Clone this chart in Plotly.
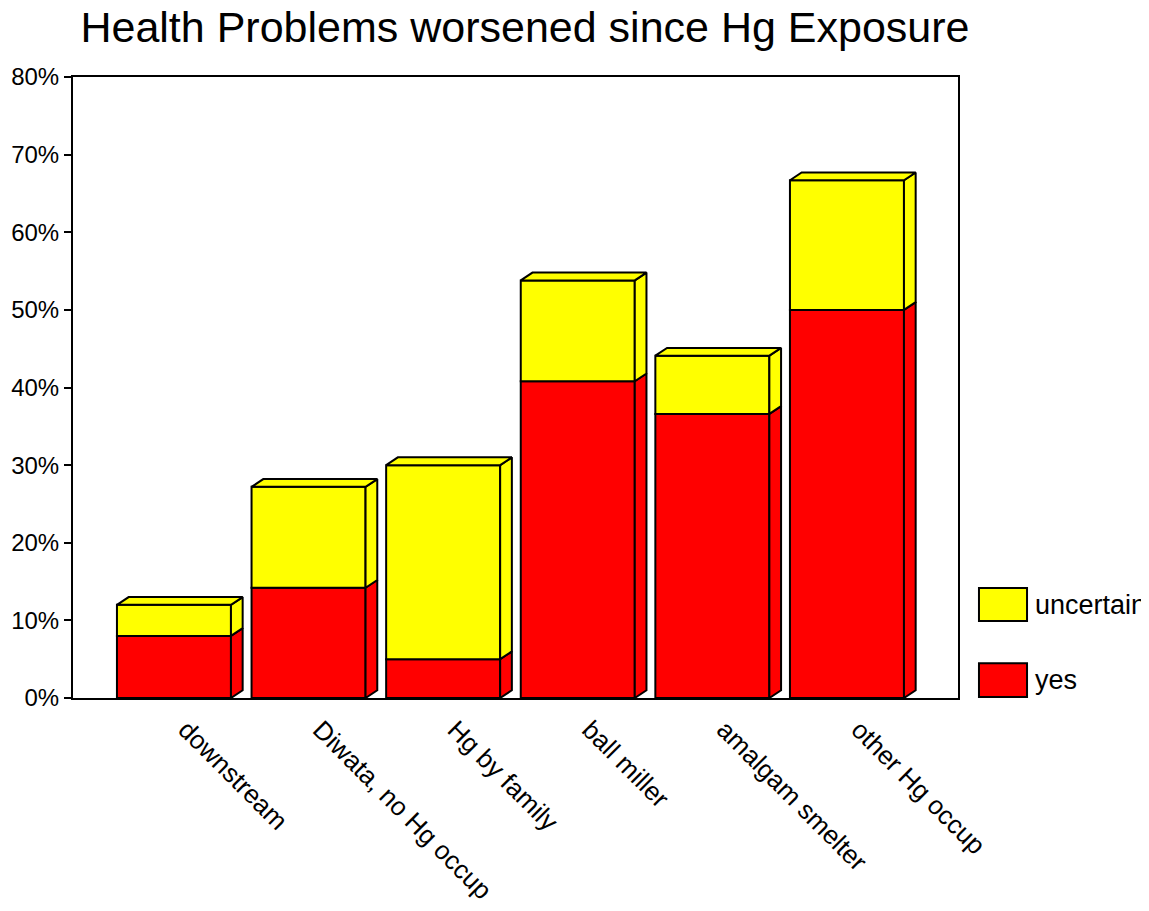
import plotly.graph_objects as go

categories = ["downstream", "Diwata, no Hg occup", "Hg by family", "ball miller", "amalgam smelter", "other Hg occup"]
yes = [8.0, 14.2, 5.0, 40.8, 36.6, 50.0]
uncertain = [4.0, 13.0, 25.0, 13.0, 7.5, 16.7]
y_ticks = [0, 10, 20, 30, 40, 50, 60, 70, 80]

RED = "#ff0000"
YELLOW = "#ffff00"
W = 0.847      # bar width (x units)
DX = 0.087     # depth offset in x units
DY = 1.0       # depth offset in y units (%)

idx = list(range(len(categories)))
tops = [a + b for a, b in zip(yes, uncertain)]

fig = go.Figure()

def side_faces(bases, heights):
    xs, ys = [], []
    for i, b, h in zip(idx, bases, heights):
        xr = i + W / 2
        xs += [xr, xr + DX, xr + DX, xr, xr, None]
        ys += [b, b + DY, b + h + DY, b + h, b, None]
    return xs, ys

def top_faces(levels):
    xs, ys = [], []
    for i, t in zip(idx, levels):
        xl, xr = i - W / 2, i + W / 2
        xs += [xl, xl + DX, xr + DX, xr, xl, None]
        ys += [t, t + DY, t + DY, t, t, None]
    return xs, ys

line = dict(color="black", width=2)

fig.add_trace(go.Bar(x=idx, y=yes, width=W, marker=dict(color=RED, line=line),
                     showlegend=False, hoverinfo="skip"))
fig.add_trace(go.Bar(x=idx, y=uncertain, base=yes, width=W, marker=dict(color=YELLOW, line=line),
                     showlegend=False, hoverinfo="skip"))

sx, sy = side_faces([0] * len(idx), yes)
fig.add_trace(go.Scatter(x=sx, y=sy, mode="lines", fill="toself", fillcolor=RED,
                         line=line, showlegend=False, hoverinfo="skip"))
sx, sy = side_faces(yes, uncertain)
fig.add_trace(go.Scatter(x=sx, y=sy, mode="lines", fill="toself", fillcolor=YELLOW,
                         line=line, showlegend=False, hoverinfo="skip"))
tx, ty = top_faces(tops)
fig.add_trace(go.Scatter(x=tx, y=ty, mode="lines", fill="toself", fillcolor=YELLOW,
                         line=line, showlegend=False, hoverinfo="skip"))

# legend (manual, large swatches)
legend_items = [("uncertain", YELLOW, 0.124, 0.177), ("yes", RED, 0.0016, 0.056)]
for name, col, y0, y1 in legend_items:
    fig.add_shape(type="rect", xref="paper", yref="paper", x0=1.0237, x1=1.078, y0=y0, y1=y1,
                  fillcolor=col, line=dict(color="black", width=2))
    fig.add_annotation(xref="paper", yref="paper", x=1.085, y=(y0 + y1) / 2, text=name,
                       showarrow=False, xanchor="left", yanchor="middle",
                       font=dict(size=27, color="black"))

fig.update_layout(
    width=1141, height=903,
    margin=dict(l=65, r=191, t=69, b=213),
    paper_bgcolor="white", plot_bgcolor="white",
    barmode="overlay",
    font=dict(family="Liberation Sans, Arial, sans-serif", color="black", size=27),
    title=dict(text="Health Problems worsened since Hg Exposure", x=0.4531, xanchor="center",
               y=0.996, yanchor="top", pad=dict(t=0, b=0), font=dict(size=43, color="black")),
    xaxis=dict(range=[-0.75, 5.825], tickmode="array", tickvals=idx, ticktext=categories,
               tickangle=45, showgrid=False, zeroline=False, showline=True, linecolor="black",
               linewidth=2, mirror=True, ticks="", tickfont=dict(size=26), automargin=False,
               ticklabelshift=12, ticklabelstandoff=4),
    yaxis=dict(range=[0, 80], tickmode="array", tickvals=y_ticks,
               ticktext=[f"{v}%" for v in y_ticks], showgrid=False, zeroline=False,
               showline=True, linecolor="black", linewidth=2, mirror=True, ticks="outside",
               ticklen=7, tickwidth=2, tickcolor="black", tickfont=dict(size=24),
               automargin=False),
)

fig.write_html("out.html")
